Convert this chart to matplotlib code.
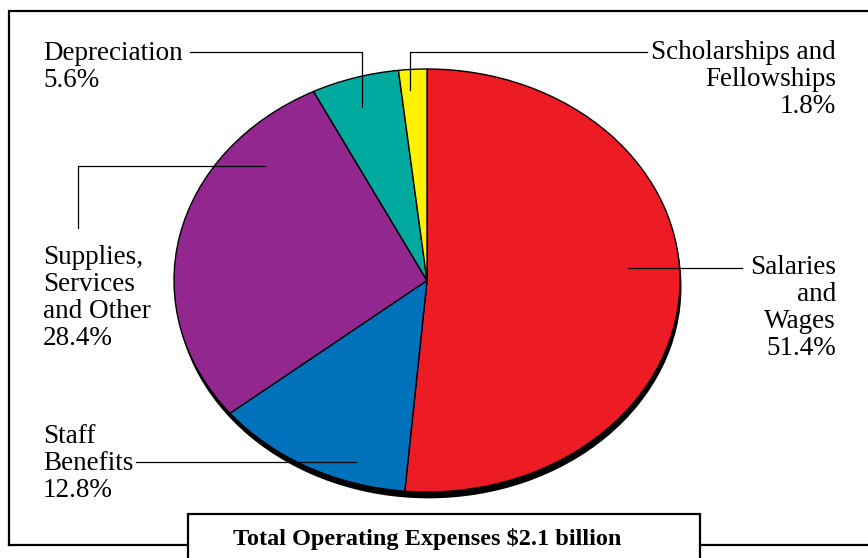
import matplotlib
matplotlib.use("Agg")
import matplotlib.pyplot as plt
from matplotlib.patches import Rectangle

# data
labels = ["Salaries and Wages", "Staff Benefits", "Supplies, Services and Other",
          "Depreciation", "Scholarships and Fellowships"]
shares = [51.4, 12.8, 28.4, 5.6, 1.8]
colors = ["#ED1C24", "#0072BC", "#92278F", "#00A99D", "#FFF200"]
title = "Total Operating Expenses $2.1 billion"

W, H = 868, 558
plt.rcParams["font.family"] = ["Liberation Serif", "DejaVu Serif"]

fig = plt.figure(figsize=(W / 100, H / 100), dpi=100)

# pie axes: ellipse bbox in pixels
px0, px1, py0, py1 = 174, 680, 69, 492
ax = fig.add_axes([px0 / W, 1 - py1 / H, (px1 - px0) / W, (py1 - py0) / H])
shadow, _ = ax.pie([1], colors=["black"], center=(0.006, -0.03), radius=1,
                   wedgeprops=dict(linewidth=0))
wedges, _ = ax.pie(shares, colors=colors, startangle=90, counterclock=False,
                   radius=1, wedgeprops=dict(edgecolor="black", linewidth=1.0))
for w in list(shadow) + list(wedges):
    w.set_clip_on(False)
ax.set_aspect("auto")
ax.set_xlim(-1, 1)
ax.set_ylim(-1, 1)
ax.axis("off")

# overlay in pixel coordinates
ov = fig.add_axes([0, 0, 1, 1], facecolor="none")
ov.set_xlim(0, W)
ov.set_ylim(H, 0)
ov.axis("off")

# frame
ov.plot([9, 9, W + 5], [545, 11, 11], color="black", lw=1.6, solid_joinstyle="miter")
ov.plot([9, 188], [545, 545], color="black", lw=1.6)
ov.plot([700, W + 5], [545, 545], color="black", lw=1.6)
ov.add_patch(Rectangle((188, 514), 512, 60, facecolor="white", edgecolor="black",
                       lw=1.6, clip_on=False))
ov.text(427, 539, title, ha="center", va="center", fontsize=17.5, fontweight="bold")

# leader lines
lk = dict(color="black", lw=0.9)
ov.plot([190, 362, 362], [52, 52, 107], **lk)
ov.plot([647, 410, 410], [52, 52, 90], **lk)
ov.plot([628, 742], [268, 268], **lk)
ov.plot([265, 78, 78], [166, 166, 228], **lk)
ov.plot([136, 356], [462, 462], **lk)

# va="baseline" anchors the last line's baseline
fs = 19.5
tk = dict(fontsize=fs, va="baseline", linespacing=1.1)
ov.text(43, 87, "Depreciation\n5.6%", ha="left", **tk)
ov.text(836, 113, "Scholarships and\nFellowships\n1.8%", ha="right", multialignment="right", **tk)
ov.text(836, 355, "Salaries\nand\nWages\n51.4%", ha="right", multialignment="right", **tk)
ov.text(43, 345, "Supplies,\nServices\nand Other\n28.4%", ha="left", **tk)
ov.text(43, 497, "Staff\nBenefits\n12.8%", ha="left", **tk)

fig.savefig("out.png", dpi=100)
